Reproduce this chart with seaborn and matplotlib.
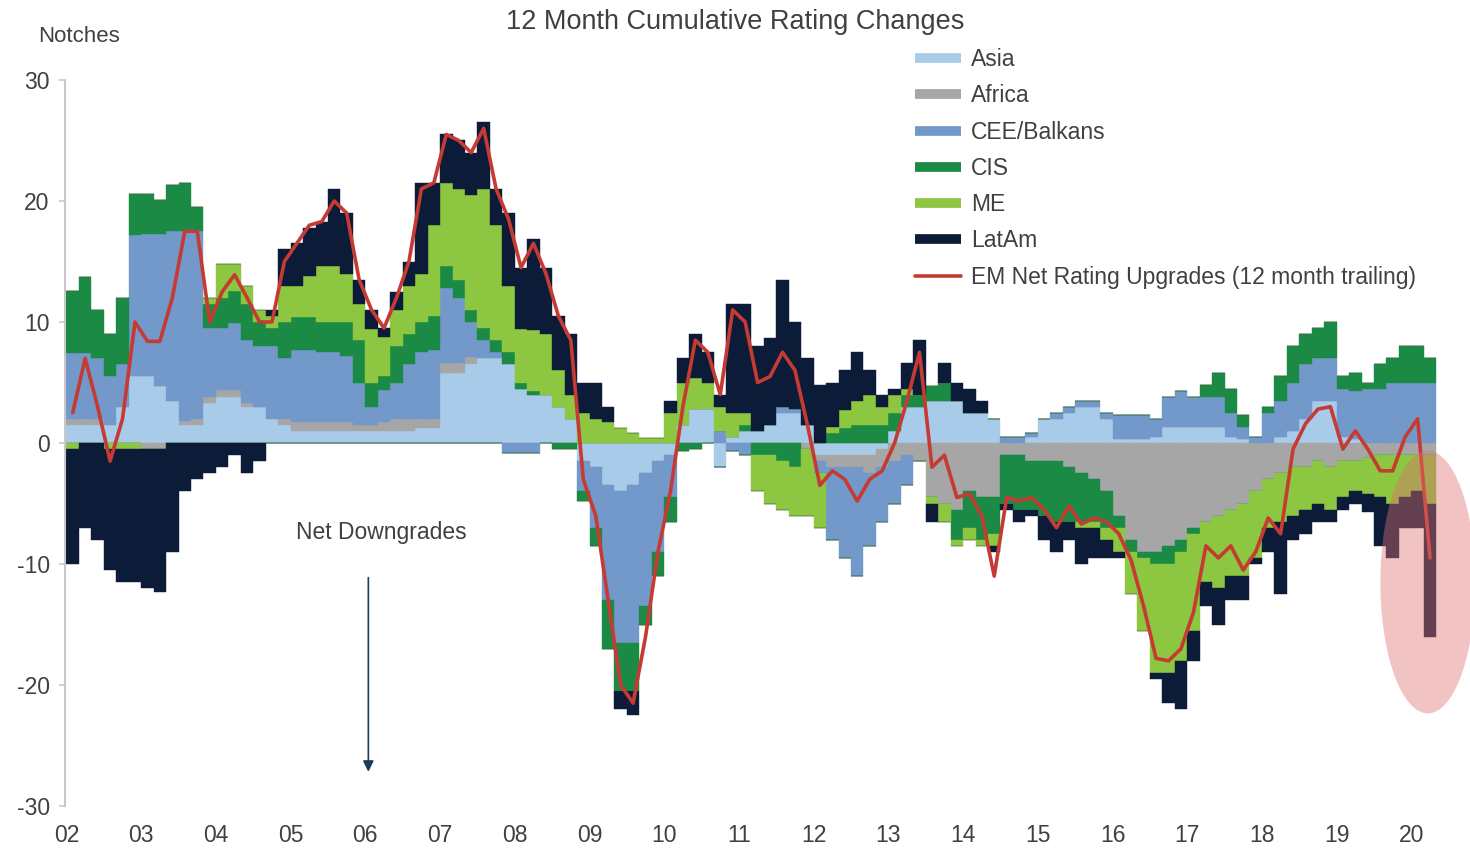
import numpy as np
import pandas as pd
import matplotlib
matplotlib.use("Agg")
import matplotlib.pyplot as plt
from matplotlib.lines import Line2D
from matplotlib.patches import Ellipse
import seaborn as sns

# Step 1: data - 12 month cumulative rating changes (notches), bimonthly, Jan 2002 - Apr 2020
asia = [1.5, 1.5, 1.5, 1.5, 3, 5.5,
        5.5, 4.7, 3.5, 1.5, 1.5, 3.3,
        3.8, 3.8, 3, 3, 2, 1.5,
        1, 1, 1, 1, 1, 1,
        1, 1, 1, 1, 1.2, 1.2,
        5.8, 5.8, 6.5, 7, 7, 6.5,
        4.5, 4, 4, 3, 2, -1.5,
        -2, -3.5, -4, -3.5, -2.5, -1.5,
        -1, 1.5, 2.8, 2.8, -2, 0.5,
        1, 1, 1.5, 2.5, 2.5, 1.5,
        -1, -1, -1, -1, -1, -0.5,
        1, 3, 3, 3.5, 3.5, 3.5,
        2.5, 2.5, 2, 0, 0, 0.5,
        2, 2, 2.5, 3, 3, 2,
        0.3, 0.3, 0.3, 0.5, 1.3, 1.3,
        1.3, 1.3, 1.3, 0.5, 0.3, 0,
        0, 0.5, 1, 2, 3.5, 3.5,
        0.5, 0.3, 0, 0, 0, 0,
        0, 0]
africa = [0.5, 0.5, 0.5, 0, 0, 0,
          -0.5, -0.5, 0, 0.3, 0.5, 0.5,
          0.6, 0.6, 0.3, 0, 0, 0.5,
          0.7, 0.7, 0.7, 0.7, 0.7, 0.5,
          0.5, 0.7, 1, 1, 0.8, 0.8,
          0.8, 0.8, 0.6, 0, 0, 0,
          0, 0, 0, 0, 0, 0,
          0, 0, 0, 0, 0, 0,
          0, 0, 0, 0, 0, 0,
          0, 0, 0, 0, 0, -0.5,
          -0.5, -1, -1, -1, -1.5, -1.5,
          -1.5, -1, -1.5, -4.5, -5, -5.5,
          -4, -4.5, -4.5, -1, -1, -1.5,
          -1.5, -1.5, -2, -2.5, -3, -4,
          -6, -8, -9, -9, -8.5, -8,
          -7, -6.5, -6, -5.5, -5, -4,
          -3, -2.5, -2, -2, -1.5, -2,
          -1.5, -1.5, -1.2, -1, -1, -1,
          -1, -1]
cee = [5.4, 5.4, 5, 4, 3.5, 11.7,
       11.8, 12.6, 14, 15.7, 15.5, 5.7,
       5.1, 5.5, 5.2, 5, 6, 5,
       6, 6, 5.8, 5.8, 5.5, 3.5,
       1.5, 2.7, 3, 4.5, 5.5, 5.7,
       6.2, 5.4, 2.9, 1.5, 0.5, -0.8,
       -0.8, -0.8, 0, 0, 0, -2.5,
       -5, -9.5, -12.5, -13, -11, -7.5,
       -3.5, 0, 0, 0, 1, -0.7,
       -1, 0, 0, 0.5, 0.3, 0,
       -1, -6, -7.5, -9, -6, -4.5,
       -3.5, -2.5, 0, 0, 0, 0,
       0, 0, 0, 0.5, 0.5, 0.3,
       0, 0.5, 0.5, 0.5, 0.5, 0.5,
       2, 2, 2, 1.5, 2.5, 3,
       2.5, 2.5, 2.5, 2, 1, 0.5,
       2.5, 3, 4, 4.5, 3.5, 3.5,
       4, 4, 4.5, 4.5, 5, 5,
       5, 5]
cis = [5.2, 6.3, 4, 3.5, 5.5, 3.4,
       3.3, 2.8, 3.8, 4, 2, 2,
       2.5, 2.7, 3, 2, 1.5, 3,
       2.7, 2.7, 2.5, 2.5, 2.8, 3.5,
       2, 1.1, 3, 2.5, 2.5, 2.8,
       1.8, 1.5, 1, 1, 1, 1,
       0.5, 0.3, 0, -0.5, -0.5, -0.8,
       -1.5, -4, -4, -4, -1.5, -2,
       -2, -0.7, -0.5, 0, 0, 0,
       0.5, -1, -1, -1.5, -2, 0,
       0, 0.8, 1.2, 1.5, 1.5, 1.5,
       1.5, 1, 1, 1.2, 1.5, -2.5,
       -3, -3.5, -3, -4, -4.5, -4,
       -4.5, -5, -4.5, -4, -3.5, -3,
       -1, -1, -0.5, -1, -1.5, -1,
       -0.5, 1, 2, 2, 1, 0,
       0.5, 2, 3, 2.5, 2.5, 3,
       1, 1.5, 0.5, 2, 2, 3,
       3, 2]
me = [-0.5, 0, 0, -0.5, -0.5, -0.5,
      0, 0, 0, 0, 0, 0.5,
      2.8, 2.2, 1.5, 1, 1, 3,
      2.6, 3.4, 4.6, 4.6, 4, 3,
      4.4, 3.3, 3, 4, 4, 7.5,
      6.9, 7.5, 9.5, 11.5, 9.5, 5.5,
      4.4, 5, 5, 3, 2, 2.5,
      2, 1.7, 1.2, 0.8, 0.4, 0.4,
      2.5, 3.5, 2.6, 2.2, 2, 2,
      1, -3, -4, -4, -4, -5.5,
      -4.5, 0.5, 1.5, 2, 2.5, 1.5,
      1.5, 0.5, 0, -0.5, -1.5, -0.5,
      -1, -0.5, -1, 0, 0, 0,
      0, 0, 0, -0.5, -0.5, -1,
      -2, -3.5, -6, -9, -9, -9,
      -8, -5, -6, -5.5, -6, -5.5,
      -4, -4, -4, -3.5, -3.5, -3.5,
      -3, -2.5, -3, -3.5, -4, -3.5,
      -3, -4]
latam = [-9.5, -7, -8, -10, -11, -11,
         -11.5, -11.8, -9, -4, -3, -2.5,
         -2, -1, -2.5, -1.5, 0.5, 3,
         3.5, 4, 3.7, 6.4, 5, 2,
         1.6, 0.7, 1.5, 2, 7.5, 3.5,
         4, 4, 3.5, 5.5, 3, 6,
         5.1, 7.6, 5.5, 4.5, 5, 2.5,
         3, 1.3, -1.5, -2, 0, 0,
         1, 2, 3.6, 2.5, 1, 9,
         9, 7, 7.2, 10.5, 7.2, 5.5,
         4.8, 3.7, 3.3, 4, 2, 1,
         0.5, 2.1, 4.5, -1.5, 1.6, 1.5,
         2, 1, -0.5, -0.5, -1, -0.5,
         -2, -2.5, -1.5, -3, -2.5, -1.5,
         -0.5, 0, 0, -0.5, -2.5, -4,
         -2.5, -2, -3, -2, -2, -0.5,
         -2, -6, -2, -2, -1.5, -1,
         -1, -1, -1.5, -4, -4.5, -2.5,
         -3, -11]
net = [2.5, 7, 3, -1.5, 2, 10,
       8.4, 8.4, 12, 17.5, 17.5, 10,
       12.5, 13.9, 12, 10, 10, 15,
       16.5, 18, 18.3, 20, 19, 13.5,
       11, 9.5, 12, 15, 21, 21.5,
       25.5, 25, 24, 26, 21, 18.5,
       14.5, 16.5, 14, 10.5, 8.5, -3,
       -6, -13, -20, -21.5, -16, -9,
       -4, 3, 8.5, 7.5, 4, 11,
       10, 5, 5.5, 7.5, 6, 1.5,
       -3.5, -2.3, -3, -4.8, -3, -2.3,
       0, 3.5, 7.5, -2, -1, -4.5,
       -4.2, -6, -11, -4.5, -4.8, -4.5,
       -5.5, -7, -5.2, -6.7, -6.2, -6.5,
       -7.5, -9.7, -13.5, -17.8, -18, -17,
       -14, -8.5, -9.5, -8.5, -10.5, -9,
       -6.2, -7.5, -0.5, 1.6, 2.8, 3,
       -0.5, 1, -0.5, -2.3, -2.3, 0.5,
       2, -9.5]

regions = ["Asia", "Africa", "CEE/Balkans", "CIS", "ME", "LatAm"]
colors = ["#a9cbea", "#a6a6a6", "#7399cb", "#1b8a45", "#8dc640", "#0c1c38"]
red = "#c53b33"
year_labels = ["02", "03", "04", "05", "06", "07", "08", "09", "10", "11",
               "12", "13", "14", "15", "16", "17", "18", "19", "20"]

df = pd.DataFrame({"Asia": asia, "Africa": africa, "CEE/Balkans": cee,
                   "CIS": cis, "ME": me, "LatAm": latam, "net": net})
df["x"] = 2002 + np.arange(len(df)) / 6  # start of each 2-month bucket

# Step 2: styling
sns.set_theme(style="white")
plt.rcParams["font.family"] = ["Liberation Sans", "DejaVu Sans"]
txt = "#404040"

fig = plt.figure(figsize=(14.7, 8.49), dpi=100)
ax = fig.add_axes([65 / 1470, 43 / 849, 1380 / 1470, 726 / 849])

# Step 3: stacked bars, positives up and negatives down
pos_base = np.zeros(len(df))
neg_base = np.zeros(len(df))
for name, col in zip(regions, colors):
    v = df[name].to_numpy(dtype=float)
    p = np.clip(v, 0, None)
    q = np.clip(v, None, 0)
    ax.bar(df["x"], p, width=1 / 6, bottom=pos_base, align="edge",
           color=col, edgecolor=col, linewidth=0.3)
    ax.bar(df["x"], q, width=1 / 6, bottom=neg_base, align="edge",
           color=col, edgecolor=col, linewidth=0.3)
    pos_base += p
    neg_base += q

# Step 4: net line
sns.lineplot(x=df["x"] + 1 / 12, y=df["net"], ax=ax, color=red, linewidth=2.6, zorder=4)

ax.set_xlim(2001.98, 2020.45)
ax.set_ylim(-30, 30)
ax.set_xlabel("")
ax.set_ylabel("")
for s in ["top", "right", "bottom"]:
    ax.spines[s].set_visible(False)
ax.spines["left"].set_color("#c8c8c8")
ax.spines["left"].set_linewidth(1.5)
ax.set_yticks(range(-30, 31, 10))
ax.set_yticklabels([str(t) for t in range(-30, 31, 10)])
ax.set_xticks(range(2002, 2021))
ax.set_xticklabels(year_labels)
ax.tick_params(axis="y", length=4, width=1.2, color="#c8c8c8", pad=7,
               labelsize=16.5, labelcolor=txt, left=True)
ax.tick_params(axis="x", length=0, pad=13, labelsize=16.5, labelcolor=txt)
ax.grid(False)

# annotations
ax.text(2006.22, -7.4, "Net Downgrades", ha="center", va="center", fontsize=16.5, color=txt)
ax.annotate("", xy=(2006.04, -27.4), xytext=(2006.04, -10.9),
            arrowprops=dict(arrowstyle="-|>", color="#1f3a57", lw=1.2, mutation_scale=16))
ax.add_patch(Ellipse((2020.22, -11.5), 1.27, 21.7, facecolor="#e07070",
                     edgecolor="none", alpha=0.42, zorder=6, clip_on=False))

fig.text(0.5, 1 - 22 / 849, "12 Month Cumulative Rating Changes", ha="center", va="center",
         fontsize=19.5, color=txt)
fig.text(38 / 1470, 1 - 37 / 849, "Notches", ha="left", va="center", fontsize=16, color=txt)

handles = [Line2D([0], [0], color=c, lw=7, solid_capstyle="butt") for c in colors]
handles.append(Line2D([0], [0], color=red, lw=2.6))
labels = regions + ["EM Net Rating Upgrades (12 month trailing)"]
fig.legend(handles, labels, loc="upper left", bbox_to_anchor=(915 / 1470, 1 - 48 / 849),
           frameon=False, fontsize=16.5, handlelength=2.0, handletextpad=0.45,
           labelspacing=0.58, borderpad=0, borderaxespad=0, labelcolor=txt)

fig.savefig("out.png", dpi=100)
